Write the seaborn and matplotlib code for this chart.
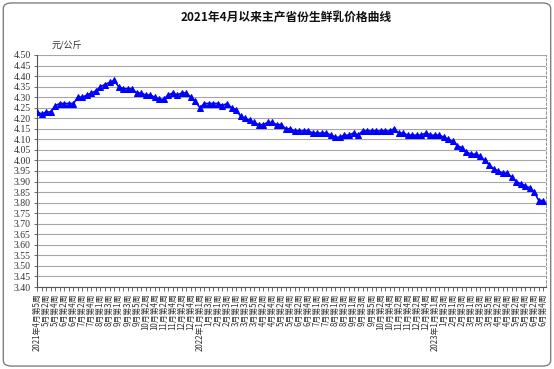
import matplotlib
matplotlib.use("Agg")
import matplotlib.pyplot as plt
import matplotlib.patches as mpatches
import seaborn as sns
import pandas as pd

TITLE = "2021年4月以来主产省份生鲜乳价格曲线"
UNIT = "元/公斤"

# weekly price, 元/公斤 (2021年4月第5周 -> 2023年6月第4周)
prices = [
    4.23, 4.22, 4.23, 4.23, 4.26, 4.27, 4.27, 4.27, 4.27, 4.30,
    4.30, 4.31, 4.32, 4.33, 4.35, 4.36, 4.37, 4.38, 4.35, 4.34,
    4.34, 4.34, 4.32, 4.32, 4.31, 4.31, 4.30, 4.29, 4.29, 4.31,
    4.32, 4.31, 4.32, 4.32, 4.30, 4.28, 4.25, 4.27, 4.27, 4.27,
    4.27, 4.26, 4.27, 4.25, 4.24, 4.21, 4.20, 4.19, 4.18, 4.17,
    4.17, 4.18, 4.18, 4.17, 4.17, 4.15, 4.15, 4.14, 4.14, 4.14,
    4.14, 4.13, 4.13, 4.13, 4.13, 4.12, 4.11, 4.11, 4.12, 4.12,
    4.13, 4.12, 4.14, 4.14, 4.14, 4.14, 4.14, 4.14, 4.14, 4.15,
    4.13, 4.13, 4.12, 4.12, 4.12, 4.12, 4.13, 4.12, 4.12, 4.12,
    4.11, 4.10, 4.09, 4.07, 4.06, 4.04, 4.03, 4.03, 4.02, 4.00,
    3.98, 3.96, 3.95, 3.94, 3.94, 3.92, 3.90, 3.89, 3.88, 3.87,
    3.85, 3.81, 3.81,
]

# every second week carries a label
week_labels = [
    "2021年4月第5周", "5月第2周", "5月第4周", "6月第2周", "6月第4周",
    "7月第2周", "7月第4周", "8月第1周", "8月第3周", "9月第1周",
    "9月第3周", "9月第5周", "10月第2周", "10月第4周", "11月第2周",
    "11月第4周", "12月第2周", "12月第4周",
    "2022年1月第1周", "1月第3周", "2月第1周", "2月第3周", "3月第1周",
    "3月第3周", "3月第5周", "4月第2周", "4月第4周", "5月第2周",
    "5月第4周", "6月第2周", "6月第4周", "7月第1周", "7月第3周",
    "8月第1周", "8月第3周", "9月第1周", "9月第3周", "9月第5周",
    "10月第2周", "10月第4周", "11月第2周", "11月第4周", "12月第2周",
    "12月第4周",
    "2023年1月第1周", "1月第3周", "2月第1周", "2月第3周", "3月第1周",
    "3月第3周", "3月第5周", "4月第2周", "4月第4周", "5月第2周",
    "5月第4周", "6月第2周", "6月第4周",
]

y_ticks = [round(3.40 + 0.05 * k, 2) for k in range(23)]


def main():
    sns.set_style("white")
    plt.rcParams['font.family'] = ['Noto Sans CJK SC', 'DejaVu Sans']

    df = pd.DataFrame({"week": range(len(prices)), "price": prices})

    fig = plt.figure(figsize=(5.54, 3.69), dpi=100)
    ax = fig.add_axes([37 / 554, 1 - 287 / 369, 509 / 554, 232 / 369])

    # horizontal gridlines like the excel chart
    for v in y_ticks:
        ax.axhline(v, color='#a6a6a6', linewidth=0.8, zorder=0)

    sns.lineplot(data=df, x="week", y="price", ax=ax, color='#0000ff',
                 marker='^', markersize=5, markeredgecolor='#0000ff',
                 linewidth=1.2, zorder=3)

    ax.set_ylim(3.40, 4.50)
    ax.set_xlim(-0.05, len(prices) - 1 + 0.6)
    ax.set_yticks(y_ticks)
    ax.set_yticklabels([f"{v:.2f}" for v in y_ticks],
                       fontfamily='Liberation Serif', fontsize=7, color='#333333')

    ticks = list(range(len(prices)))
    labels = []
    for i in ticks:
        labels.append(week_labels[i // 2] if i % 2 == 0 else "")
    ax.set_xticks(ticks)
    ax.set_xticklabels(labels, rotation=90, fontsize=5.7, color='#333333')
    ax.tick_params(axis='x', length=3, width=0.6, color='#555555', pad=1.5, bottom=True)
    ax.tick_params(axis='y', length=2.5, width=0.6, color='#555555', pad=2, left=True)

    ax.set_xlabel("")
    ax.set_ylabel("")

    for side in ['left', 'bottom']:
        ax.spines[side].set_color('#555555')
        ax.spines[side].set_linewidth(0.8)
    ax.spines['top'].set_visible(False)
    ax.spines['right'].set_color('#9a9a9a')
    ax.spines['right'].set_linestyle((0, (2, 2)))
    ax.spines['right'].set_linewidth(0.8)

    fig.text(286 / 554, 1 - 18 / 369, TITLE, ha='center', va='center',
             fontsize=8.5, fontweight='bold', color='#111111')
    fig.text(52 / 554, 1 - 46 / 369, UNIT, ha='left', va='center',
             fontsize=6.5, color='#333333')

    # rounded chart-area border
    border = mpatches.FancyBboxPatch((0.006, 0.008), 0.988, 0.984,
                                     boxstyle="round,pad=0,rounding_size=0.015",
                                     transform=fig.transFigure, fill=False,
                                     edgecolor='#7f7f7f', linewidth=1.0)
    fig.patches.append(border)

    fig.savefig("out.png", dpi=100)


if __name__ == "__main__":
    main()
